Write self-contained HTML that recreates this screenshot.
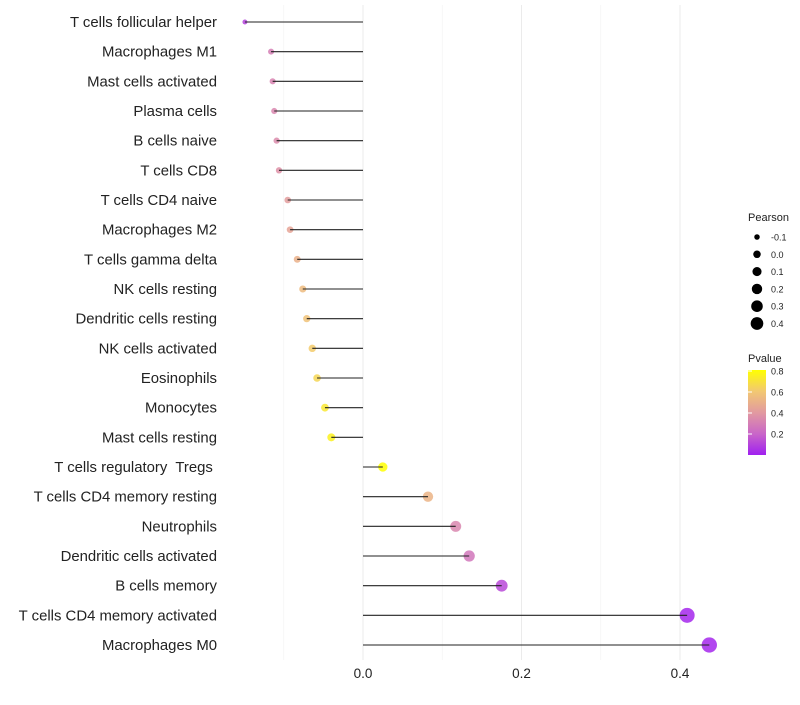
<!DOCTYPE html>
<html><head><meta charset="utf-8"><style>
body{margin:0;background:#fff;font-family:"Liberation Sans",sans-serif}
text{white-space:pre}
</style></head><body>
<svg id="chart" width="800" height="700" xmlns="http://www.w3.org/2000/svg" font-family="Liberation Sans, sans-serif"></svg>
<script>
const categories=["T cells follicular helper","Macrophages M1","Mast cells activated","Plasma cells","B cells naive","T cells CD8","T cells CD4 naive","Macrophages M2","T cells gamma delta","NK cells resting","Dendritic cells resting","NK cells activated","Eosinophils","Monocytes","Mast cells resting","T cells regulatory  Tregs ","T cells CD4 memory resting","Neutrophils","Dendritic cells activated","B cells memory","T cells CD4 memory activated","Macrophages M0"];
const pearson=[-0.149,-0.116,-0.114,-0.112,-0.109,-0.106,-0.095,-0.092,-0.083,-0.076,-0.071,-0.064,-0.058,-0.048,-0.040,0.025,0.082,0.117,0.134,0.175,0.409,0.437];
const pvalue=[0.1,0.3,0.32,0.33,0.35,0.37,0.42,0.45,0.5,0.55,0.58,0.62,0.66,0.72,0.76,0.82,0.52,0.33,0.27,0.12,0.02,0.02];
const xTicks=[0,0.2,0.4];
const xMinor=[-0.1,0.1,0.3];
const legSizes=[-0.1,0,0.1,0.2,0.3,0.4];
const legP=[0.8,0.6,0.4,0.2];
const svg=document.getElementById('chart');
const NS='http://www.w3.org/2000/svg';
const X=v=>363+v*792.5;
const Y=i=>22+i*(623/21);
const R=v=>Math.sqrt(6+90*Math.max(0,v+0.15));
const stops=[[0,[160,32,240]],[0.25,[201,102,200]],[0.5,[226,154,160]],[0.75,[242,200,114]],[1,[255,255,0]]];
function col(p){let t=Math.max(0,Math.min(1,p/0.81));for(let k=1;k<stops.length;k++){if(t<=stops[k][0]){const a=stops[k-1],b=stops[k];const f=(t-a[0])/(b[0]-a[0]);return 'rgb('+a[1].map((c,j)=>Math.round(c+(b[1][j]-c)*f)).join(',')+')';}}return 'rgb(255,255,0)';}
function el(tag,attrs,name,txt){const e=document.createElementNS(NS,tag);for(const k in attrs)e.setAttribute(k,attrs[k]);


if(txt!==undefined)e.textContent=txt;svg.appendChild(e);return e;}
xMinor.forEach(v=>el('line',{x1:X(v),x2:X(v),y1:5,y2:660,stroke:'#f2f2f2','stroke-width':0.6},'minor-gridline'));
xTicks.forEach(v=>{el('line',{x1:X(v),x2:X(v),y1:5,y2:660,stroke:'#ebebeb','stroke-width':1},'major-gridline');
el('text',{x:X(v),y:678,'text-anchor':'middle','font-size':13.5,fill:'#222'},'x-tick-label',v.toFixed(1));});
categories.forEach((c,i)=>{
el('circle',{cx:X(pearson[i]),cy:Y(i),r:R(pearson[i]),fill:col(pvalue[i]),'fill-opacity':0.85},'point');
el('line',{x1:X(0),x2:X(pearson[i]),y1:Y(i),y2:Y(i),stroke:'#222','stroke-width':1.1},'stem');
el('text',{x:217,y:Y(i)+5,'text-anchor':'end','font-size':14.9,fill:'#222'},'y-tick-label',c);});
el('text',{x:748,y:221,'font-size':11,fill:'#222'},'size-legend-title','Pearson');
legSizes.forEach((v,i)=>{const y=237+i*17.3;el('circle',{cx:757,cy:y,r:R(v)*0.85,fill:'#000'},'size-legend-key');
el('text',{x:771,y:y+3.5,'font-size':9,fill:'#222'},'size-legend-label',v.toFixed(1));});
el('text',{x:748,y:362,'font-size':11,fill:'#222'},'color-legend-title','Pvalue');
const defs=document.createElementNS(NS,'defs');defs.innerHTML='<linearGradient id="g" x1="0" y1="1" x2="0" y2="0">'+stops.map(s=>'<stop offset="'+s[0]+'" stop-color="rgb('+s[1].join(',')+')"/>').join('')+'</linearGradient>';svg.appendChild(defs);
el('rect',{x:748,y:370,width:18,height:85,fill:'url(#g)'},'color-legend-bar');
legP.forEach(v=>{const y=455-v*105;el('text',{x:771,y:y+3.5,'font-size':9,fill:'#222'},'color-legend-label',v.toFixed(1));
el('line',{x1:748,x2:752,y1:y,y2:y,stroke:'#fff'},'color-legend-tick');});
</script>
</body></html>
